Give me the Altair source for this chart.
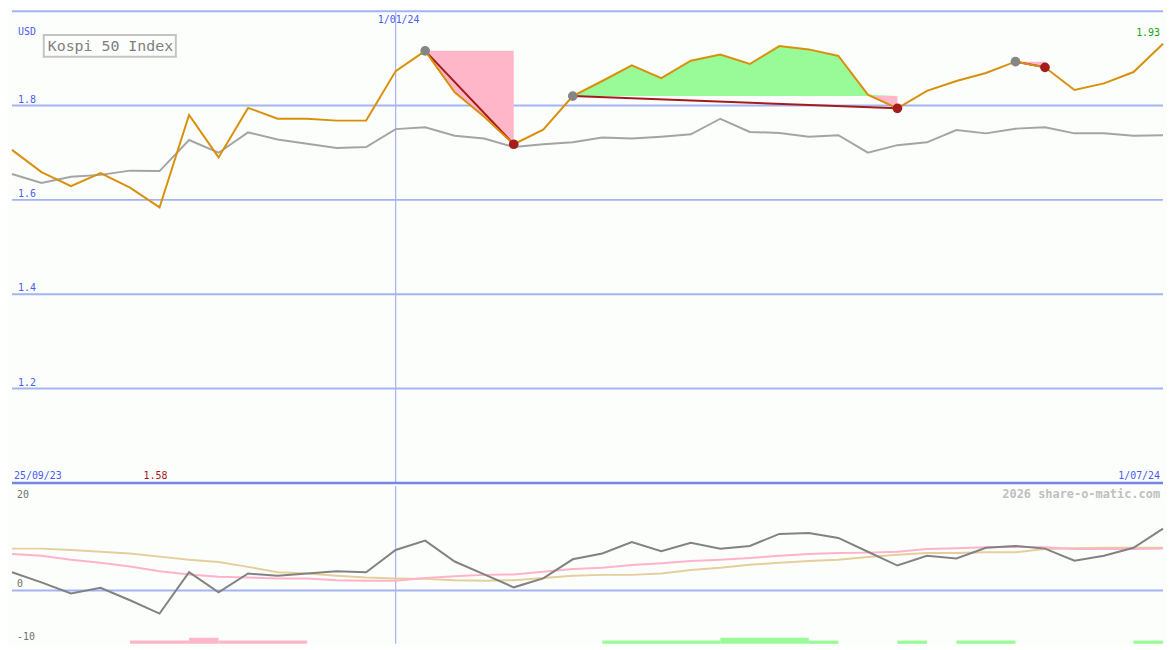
import altair as alt
import pandas as pd

# ---------------- data (weekly points, index 0..39) ----------------
weeks = list(range(40))
price = [1.706, 1.659, 1.629, 1.657, 1.626, 1.584, 1.780, 1.690, 1.795, 1.772,
         1.772, 1.768, 1.768, 1.873, 1.916, 1.828, 1.776, 1.718, 1.749, 1.820,
         1.852, 1.885, 1.858, 1.895, 1.908, 1.888, 1.926, 1.919, 1.905, 1.823,
         1.794, 1.831, 1.852, 1.869, 1.893, 1.881, 1.833, 1.847, 1.871, 1.931]
compare = [1.655, 1.636, 1.649, 1.653, 1.662, 1.661, 1.727, 1.700, 1.743, 1.728,
           1.719, 1.710, 1.712, 1.750, 1.754, 1.736, 1.730, 1.712, 1.718, 1.722,
           1.732, 1.730, 1.734, 1.739, 1.772, 1.744, 1.742, 1.734, 1.737, 1.700,
           1.716, 1.722, 1.748, 1.741, 1.751, 1.754, 1.741, 1.741, 1.736, 1.737]
osc = [4.1, 1.8, -0.7, 0.6, -2.2, -5.2, 4.1, -0.4, 3.8, 3.3,
       3.8, 4.3, 4.1, 9.1, 11.2, 6.5, 3.6, 0.7, 2.7, 7.0,
       8.3, 10.9, 8.8, 10.7, 9.4, 10.0, 12.7, 12.9, 11.8, 8.7,
       5.6, 7.8, 7.2, 9.6, 10.0, 9.4, 6.7, 7.8, 9.6, 13.9]
fast_ma = [8.2, 7.8, 6.9, 6.2, 5.4, 4.3, 3.6, 3.1, 2.9, 2.7,
           2.7, 2.3, 2.2, 2.2, 2.8, 3.2, 3.5, 3.6, 4.2, 4.8,
           5.1, 5.7, 6.1, 6.6, 6.9, 7.3, 7.8, 8.2, 8.4, 8.5,
           8.7, 9.3, 9.5, 9.7, 9.8, 9.7, 9.3, 9.3, 9.3, 9.4]
slow_ma = [9.4, 9.4, 9.1, 8.7, 8.3, 7.6, 6.9, 6.4, 5.3, 4.1,
           3.8, 3.3, 2.9, 2.7, 2.6, 2.3, 2.2, 2.3, 2.8, 3.3,
           3.5, 3.5, 3.8, 4.6, 5.1, 5.8, 6.2, 6.6, 6.9, 7.5,
           8.0, 8.4, 8.4, 8.6, 8.6, 9.3, 9.5, 9.6, 9.6, 9.6]
trades = [(14, 17), (19, 30), (34, 35)]          # (entry index, exit index)
top_ticks = [1.8, 1.6, 1.4, 1.2]
top_tick_labels = ["1.8", "1.6", "1.4", "1.2"]
sig_start = [4, 6, 7, 20, 24, 27, 30, 32, 38]
sig_end = [6, 7, 10, 24, 27, 28, 31, 34, 39]
sig_level = [1, 2, 1, 1, 2, 1, 1, 1, 1]
sig_kind = ["neg", "neg", "neg", "pos", "pos", "pos", "pos", "pos", "pos"]
year_start_week = 13

# ---------------- layout / style ----------------
W, H1, H2 = 1159, 475, 159
MONO = "DejaVu Sans Mono"
BLUE_TXT = "#4a5cf0"
GRID = "#a4b4f2"
SEP = "#7585ea"
BG = "#fcfefc"

df = pd.DataFrame({"i": weeks, "price": price, "comp": compare,
                   "osc": osc, "fast": fast_ma, "slow": slow_ma})

area_rows, line_rows, dot_rows = [], [], []
for k, (a, b) in enumerate(trades):
    lvl = price[a]
    for i in range(a, b + 1):
        p = price[i]
        area_rows.append(dict(i=i, seg=k, hi=max(p, lvl), lo=min(p, lvl), lvl=lvl))
    line_rows += [dict(i=a, seg=k, v=price[a]), dict(i=b, seg=k, v=price[b])]
    dot_rows += [dict(i=a, v=price[a], kind="entry"), dict(i=b, v=price[b], kind="exit")]
area_df = pd.DataFrame(area_rows)
tline_df = pd.DataFrame(line_rows)
dot_df = pd.DataFrame(dot_rows)

xs = alt.Scale(domain=[0, 39], nice=False, zero=False)
ys1 = alt.Scale(domain=[1.0, 2.0], nice=False, zero=False)
ys2 = alt.Scale(domain=[-12, 23.5], nice=False, zero=False)
X = alt.X("i:Q", scale=xs, axis=None)

# ---------------- top panel ----------------
grid_df = pd.DataFrame({"v": top_ticks, "t": top_tick_labels})
grid = alt.Chart(grid_df).mark_rule(color=GRID, strokeWidth=2).encode(
    y=alt.Y("v:Q", scale=ys1, axis=None))
grid_lbl = alt.Chart(grid_df).mark_text(
    align="left", baseline="alphabetic", dy=-3, font=MONO, fontSize=10, color=BLUE_TXT
).encode(x=alt.value(6), y=alt.Y("v:Q", scale=ys1, axis=None), text="t:N")
top_border = alt.Chart(pd.DataFrame({"v": [2.0]})).mark_rule(color=GRID, strokeWidth=2).encode(
    y=alt.Y("v:Q", scale=ys1, axis=None))
sep = alt.Chart(pd.DataFrame({"v": [1.0]})).mark_rule(color=SEP, strokeWidth=2.5).encode(
    y=alt.Y("v:Q", scale=ys1, axis=None))

vline_df = pd.DataFrame({"i": [year_start_week], "t": ["1/01/24"]})
vline = alt.Chart(vline_df).mark_rule(color=GRID, strokeWidth=1.2).encode(x=X)
vline_lbl = alt.Chart(vline_df).mark_text(
    align="center", baseline="alphabetic", dx=3, font=MONO, fontSize=10, color=BLUE_TXT
).encode(x=X, y=alt.value(11.5), text="t:N")

gain = alt.Chart(area_df).mark_area(color="#98fb98", opacity=1).encode(
    x=X, y=alt.Y("hi:Q", scale=ys1, axis=None, stack=None), y2="lvl:Q", detail="seg:N")
loss = alt.Chart(area_df).mark_area(color="#ffb6c9", opacity=1).encode(
    x=X, y=alt.Y("lvl:Q", scale=ys1, axis=None, stack=None), y2="lo:Q", detail="seg:N")

comp_line = alt.Chart(df).mark_line(color="#a4a4a4", strokeWidth=2).encode(
    x=X, y=alt.Y("comp:Q", scale=ys1, axis=None))
trade_line = alt.Chart(tline_df).mark_line(color="#a51c1c", strokeWidth=2).encode(
    x=X, y=alt.Y("v:Q", scale=ys1, axis=None), detail="seg:N")
price_line = alt.Chart(df).mark_line(color="#d8900a", strokeWidth=2).encode(
    x=X, y=alt.Y("price:Q", scale=ys1, axis=None))
entry_dots = alt.Chart(dot_df).transform_filter("datum.kind == 'entry'").mark_circle(
    size=95, opacity=1, color="#858585").encode(x=X, y=alt.Y("v:Q", scale=ys1, axis=None))
exit_dots = alt.Chart(dot_df).transform_filter("datum.kind == 'exit'").mark_circle(
    size=95, opacity=1, color="#a51c1c").encode(x=X, y=alt.Y("v:Q", scale=ys1, axis=None))


def label(txt, x, y, color, size=10, align="left", weight="normal"):
    return alt.Chart(pd.DataFrame({"t": [txt]})).mark_text(
        align=align, baseline="alphabetic", font=MONO, fontSize=size,
        color=color, fontWeight=weight).encode(x=alt.value(x), y=alt.value(y), text="t:N")


usd = label("USD", 6, 23.5, BLUE_TXT)
box = alt.Chart(pd.DataFrame({"a": [0]})).mark_rect(
    fill=BG, stroke="#c4c4c4", strokeWidth=2).encode(
    x=alt.value(32), x2=alt.value(165), y=alt.value(24), y2=alt.value(46))
title = label("Kospi 50 Index", 36, 40.5, "#808080", size=15)
last_lbl = alt.Chart(df.tail(1)).mark_text(
    align="right", baseline="alphabetic", font=MONO, fontSize=10, color="#22a022"
).encode(x=alt.value(W - 3), y=alt.value(24.5), text=alt.Text("price:Q", format=".2f"))
min_lbl = alt.Chart(df.nsmallest(1, "price")).mark_text(
    align="center", baseline="alphabetic", dx=-4, font=MONO, fontSize=10, color="#a01818"
).encode(x=X, y=alt.value(471), text=alt.Text("price:Q", format=".2f"))
start_lbl = label("25/09/23", 2, 471, BLUE_TXT)
end_lbl = label("1/07/24", W - 3, 471, BLUE_TXT, align="right")

top = alt.layer(
    grid, top_border, vline, gain, loss, comp_line, trade_line, price_line,
    entry_dots, exit_dots, sep, grid_lbl, usd, box, title, vline_lbl, last_lbl,
    min_lbl, start_lbl, end_lbl
).properties(width=W, height=H1)

# ---------------- bottom panel ----------------
zero = alt.Chart(pd.DataFrame({"v": [0]})).mark_rule(color=GRID, strokeWidth=2).encode(
    y=alt.Y("v:Q", scale=ys2, axis=None))
vline2 = alt.Chart(vline_df).mark_rule(color=GRID, strokeWidth=1.2).encode(x=X)
sig_df = pd.DataFrame({"s": sig_start, "e": sig_end, "lvl": sig_level, "kind": sig_kind})


def sig_bars(kind, color):
    return alt.Chart(sig_df).transform_filter(f"datum.kind == '{kind}'").transform_calculate(
        top="-12 + 0.62 * datum.lvl + 0.1"
    ).mark_rect(opacity=1, color=color).encode(
        x=alt.X("s:Q", scale=xs, axis=None), x2="e:Q",
        y=alt.Y("top:Q", scale=ys2, axis=None), y2=alt.value(H2))


neg_bars = sig_bars("neg", "#ffb6c9")
pos_bars = sig_bars("pos", "#98fb98")
slow_line = alt.Chart(df).mark_line(color="#e4cf9c", strokeWidth=2).encode(
    x=X, y=alt.Y("slow:Q", scale=ys2, axis=None))
fast_line = alt.Chart(df).mark_line(color="#ffb3c8", strokeWidth=2).encode(
    x=X, y=alt.Y("fast:Q", scale=ys2, axis=None))
osc_line = alt.Chart(df).mark_line(color="#828282", strokeWidth=2).encode(
    x=X, y=alt.Y("osc:Q", scale=ys2, axis=None))

b_ticks = pd.DataFrame({"v": [20, 0], "t": ["20", "0"]})
b_lbl = alt.Chart(b_ticks).mark_text(
    align="left", baseline="alphabetic", dy=-3, font=MONO, fontSize=10, color="#707070"
).encode(x=alt.value(5), y=alt.Y("v:Q", scale=ys2, axis=None), text="t:N")
b_lbl2 = alt.Chart(pd.DataFrame({"v": [-10], "t": ["-10"]})).mark_text(
    align="left", baseline="alphabetic", dy=5, font=MONO, fontSize=10, color="#707070"
).encode(x=alt.value(5), y=alt.Y("v:Q", scale=ys2, axis=None), text="t:N")
credit = label("2026 share-o-matic.com", W - 3, 12, "#c0c0c0", size=12, align="right",
               weight="bold")

bottom = alt.layer(
    zero, vline2, neg_bars, pos_bars, slow_line, fast_line, osc_line,
    b_lbl, b_lbl2, credit
).properties(width=W, height=H2)

chart = alt.vconcat(top, bottom, spacing=0).properties(
    padding=0, background=BG
).configure_view(stroke=None).configure_concat(spacing=0)

chart.save("out.html", embed_options={"renderer": "svg", "actions": False})
